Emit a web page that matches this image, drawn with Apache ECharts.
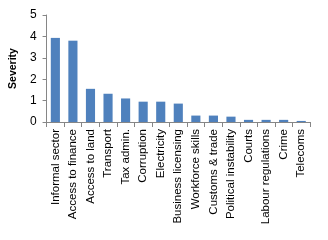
<!DOCTYPE html>
<html><head><meta charset="utf-8">
<script src="https://cdn.jsdelivr.net/npm/echarts@6/dist/echarts.min.js"></script>
<style>html,body{margin:0;padding:0;background:#fff}#c{width:328px;height:240px}</style>
</head><body><div id="c"></div>
<script>
var categories = ["Informal sector","Access to finance","Access to land","Transport","Tax admin.","Corruption","Electricity","Business licensing","Workforce skills","Customs & trade","Political instability","Courts","Labour regulations","Crime","Telecoms"];
var severity = [3.93,3.8,1.55,1.32,1.1,0.95,0.95,0.86,0.3,0.3,0.25,0.1,0.1,0.1,0.05];
var yTicks = [0,1,2,3,4,5];
var chart = echarts.init(document.getElementById('c'));
chart.setOption({
  animation:false,
  grid:{left:44,right:18,top:15,bottom:118},
  xAxis:{type:'category',data:categories,
    axisLine:{lineStyle:{color:'#868686'}},
    axisTick:{show:true,alignWithLabel:false,length:5,lineStyle:{color:'#868686'}},
    axisLabel:{rotate:90,interval:0,fontFamily:'Liberation Sans',fontSize:11.5,color:'#000',margin:7}},
  yAxis:{type:'value',min:yTicks[0],max:yTicks[yTicks.length-1],interval:1,
    name:'Severity',nameLocation:'middle',nameGap:26,nameRotate:90,
    nameTextStyle:{fontFamily:'Liberation Sans',fontSize:10.5,fontWeight:'bold',color:'#000'},
    axisLine:{show:true,lineStyle:{color:'#868686'}},
    axisTick:{show:true,length:4,lineStyle:{color:'#868686'}},
    splitLine:{show:false},
    axisLabel:{fontFamily:'Liberation Sans',fontSize:12,color:'#000',margin:10}},
  series:[{type:'bar',data:severity,barWidth:'52%',itemStyle:{color:'#4F81BD'}}]
});
</script></body></html>
